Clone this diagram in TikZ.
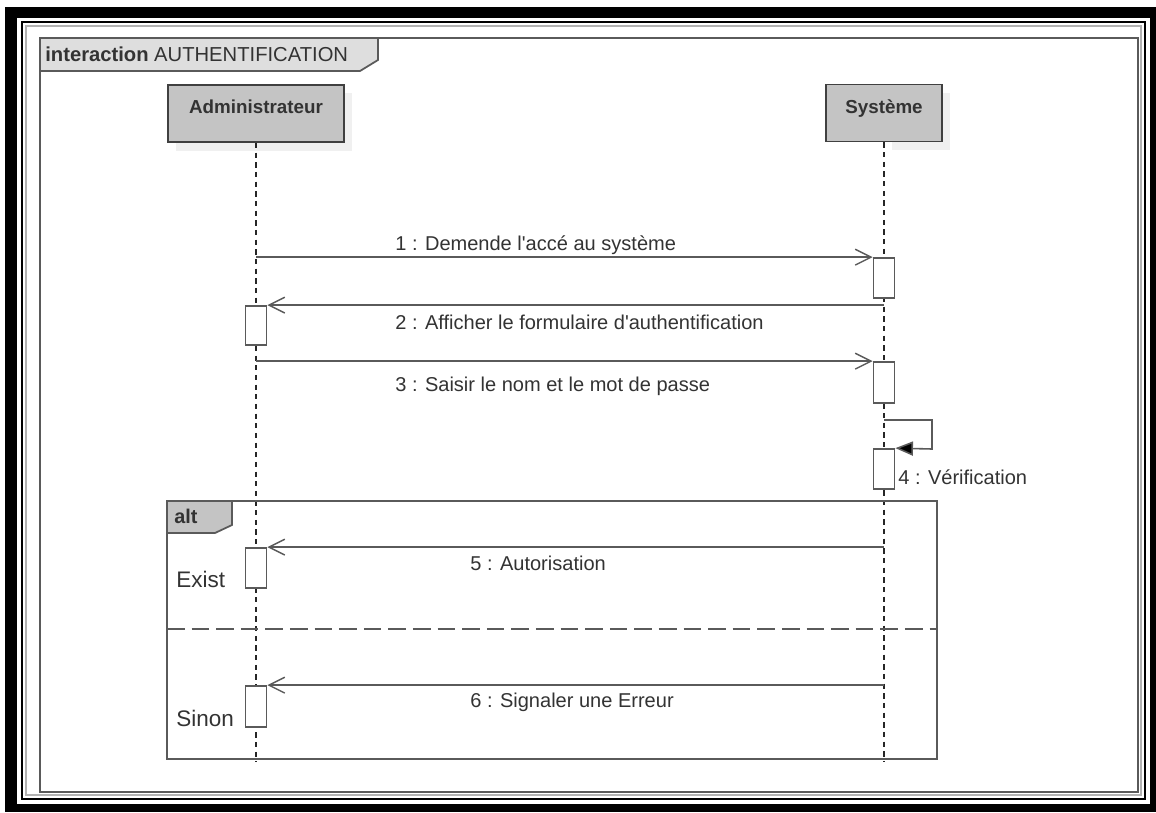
\documentclass[tikz,border=0pt]{standalone}
\usepackage{fontspec}
\setmainfont{Liberation Sans}
\usetikzlibrary{positioning,arrows.meta}
\definecolor{lineGray}{HTML}{5A5A5A}
\definecolor{headGray}{HTML}{C4C4C4}
\definecolor{tabGray}{HTML}{DEDEDE}
\definecolor{txtGray}{HTML}{333333}
\tikzset{
    frameLine/.style={draw=lineGray, line width=1pt},
    lifeHead/.style={draw=black!75, fill=headGray, line width=1.1pt, minimum height=1.14cm, inner sep=0pt},
    headText/.style={anchor=north, yshift=-0.2cm, text=txtGray, font=\fontsize{10.7}{12}\selectfont\bfseries},
    lifeLine/.style={draw=black!85, line width=1pt, dash pattern=on 3pt off 2.5pt},
    actBox/.style={draw=lineGray, fill=white, line width=1pt, minimum width=0.42cm, inner sep=0pt},
    msg/.style={draw=lineGray, line width=0.9pt, -{Straight Barb[length=9pt,width=9pt,line width=0.8pt]}},
    selfMsg/.style={draw=lineGray, line width=0.9pt, -{Triangle[length=10pt,width=8pt,fill=black]}},
    msgText/.style={anchor=west, inner sep=0pt, text=txtGray, font=\fontsize{11.4}{13}\selectfont},
    guardText/.style={anchor=west, inner sep=0pt, text=txtGray, font=\fontsize{12.8}{14}\selectfont}
}
\begin{document}
\begin{tikzpicture}[x=0.02cm, y=-0.02cm]
	\useasboundingbox (0,0) rectangle (1156,812);
	% border
	\fill[black] (5,7) rectangle (1156,812);
	\fill[white] (17,18) rectangle (1150,804);
	\draw[black, line width=1.6pt] (22,22) rectangle (1145,799);
	\draw[black!30, line width=1.5pt] (26,26) rectangle (1141,795);
	% interaction frame
	\draw[frameLine] (40,38) rectangle (1138,792);
	\filldraw[frameLine, fill=tabGray] (40,38) -- (378,38) -- (378,60) -- (360,71) -- (40,71) -- cycle;
	\node[anchor=west, inner sep=0pt, text=txtGray, font=\fontsize{11.5}{13}\selectfont] (title) at (45,54) {\textbf{interaction} AUTHENTIFICATION};
	% lifelines
	\fill[black!6] (176,93) rectangle (352,151);
	\fill[black!6] (892,93) rectangle (950,150);
	\node[lifeHead, minimum width=3.52cm, label={[headText]north:Administrateur}] (admin) at (256,113.5) {};
	\node[lifeHead, minimum width=2.32cm, label={[headText]north:Système}] (sys) at (884,113) {};
	\coordinate (adminEnd) at (256,762);
	\coordinate (sysEnd) at (884,762);
	\draw[lifeLine] (admin.south) -- (adminEnd);
	\draw[lifeLine] (sys.south) -- (sysEnd);
	% alt
	\draw[frameLine] (167,501) rectangle (937,759);
	\filldraw[frameLine, fill=headGray] (167,501) -- (232,501) -- (232,525) -- (215,533) -- (167,533) -- cycle;
	\node[anchor=west, inner sep=0pt, text=txtGray, font=\fontsize{11.3}{13}\selectfont\bfseries] (alt) at (174,516) {alt};
	\draw[frameLine, dash pattern=on 10pt off 4pt] (167,629) -- (937,629);
	\node[guardText] (exist) at (176,579) {Exist};
	\node[guardText] (sinon) at (176,718) {Sinon};
	% activations
	\node[actBox, minimum height=0.8cm] (act1) at (884,278) {};
	\node[actBox, minimum height=0.78cm] (act2) at (256,325.5) {};
	\node[actBox, minimum height=0.82cm] (act3) at (884,382.5) {};
	\node[actBox, minimum height=0.8cm] (act4) at (884,469) {};
	\node[actBox, minimum height=0.8cm] (act5) at (256,568) {};
	\node[actBox, minimum height=0.82cm] (act6) at (256,706.5) {};
	% messages
	\draw[msg] (admin |- act1.north) -- (act1.north west);
	\node[msgText] (m1) at (395,245) {1 : Demende l\textquotesingle accé au système};
	\draw[msg] (sys |- act2.north) -- (act2.north east);
	\node[msgText] (m2) at (395,322) {2 : Afficher le formulaire d\textquotesingle authentification};
	\draw[msg] (admin |- act3.north) -- (act3.north west);
	\node[msgText] (m3) at (395,386) {3 : Saisir le nom et le mot de passe};
	\draw[selfMsg] (sys |- 0,420) -| (932,449) -- (act4.north east);
	\node[msgText] (m4) at (898,477) {4 : Vérification};
	\draw[msg] (sys |- act5.north) -- (act5.north east);
	\node[msgText] (m5) at (470,563) {5 : Autorisation};
	\draw[msg] (sys |- act6.north) -- (act6.north east);
	\node[msgText] (m6) at (470,702) {6 : Signaler une Erreur};
\end{tikzpicture}
\end{document}
